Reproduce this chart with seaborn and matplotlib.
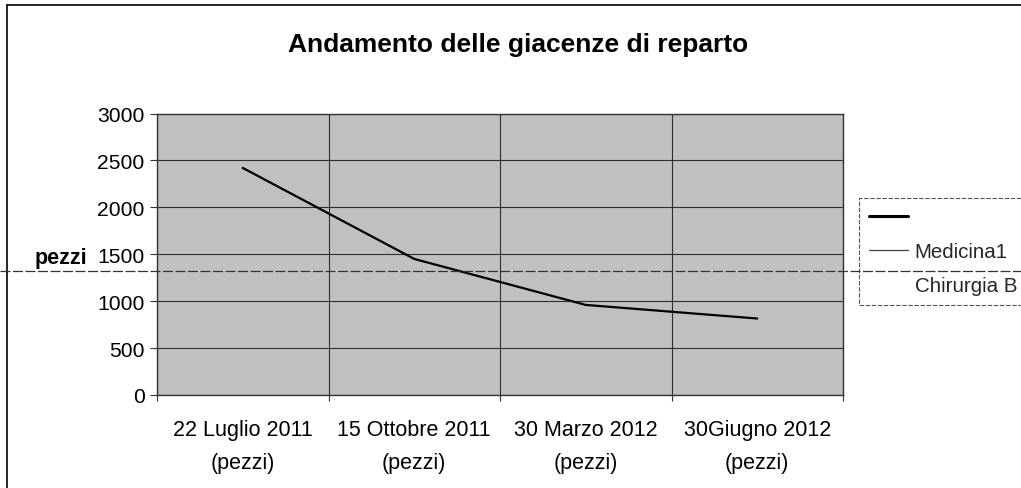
import matplotlib
matplotlib.use("Agg")
import matplotlib.pyplot as plt
from matplotlib.lines import Line2D
from matplotlib.ticker import FixedLocator
import seaborn as sns
import pandas as pd

categories = ["22 Luglio 2011\n(pezzi)", "15 Ottobre 2011\n(pezzi)",
              "30 Marzo 2012\n(pezzi)", "30Giugno 2012\n(pezzi)"]
values = [2420, 1450, 960, 815]
y_ticks = [0, 500, 1000, 1500, 2000, 2500, 3000]
legend_labels = ["", "Medicina1", "Chirurgia B"]
title = "Andamento delle giacenze di reparto"
y_label = "pezzi"

sns.set_theme(style="white")
plt.rcParams["font.family"] = ["Liberation Sans", "DejaVu Sans"]

df = pd.DataFrame({"x": range(len(categories)), "y": values})

fig = plt.figure(figsize=(10.21, 4.89), dpi=100)
fig.patch.set_facecolor("white")
ax = fig.add_axes([157 / 1021, 93 / 489, 686 / 1021, 281.5 / 489])
ax.set_facecolor("#c0c0c0")

sns.lineplot(data=df, x="x", y="y", ax=ax, color="black", linewidth=1.6,
             legend=False)

ax.set_xlim(-0.5, len(categories) - 0.5)
ax.set_ylim(0, 3000)
ax.set_yticks(y_ticks)
ax.set_yticklabels([str(v) for v in y_ticks])
ax.set_xticks(range(len(categories)))
ax.set_xticklabels(categories, linespacing=1.75)
ax.xaxis.set_minor_locator(FixedLocator([i - 0.5 for i in range(len(categories) + 1)]))

ax.grid(True, which="major", axis="y", color="#2e2e2e", linewidth=0.8)
ax.grid(True, which="minor", axis="x", color="#2e2e2e", linewidth=0.8)
ax.grid(False, which="major", axis="x")

ax.tick_params(axis="x", which="major", length=0, pad=17, labelsize=15.5, colors="black")
ax.tick_params(axis="x", which="minor", length=4, width=0.8, color="#333333", bottom=True)
ax.tick_params(axis="y", length=5, width=0.8, color="#333333", left=True,
               labelsize=15.2, labelcolor="black", pad=4)
for s in ax.spines.values():
    s.set_color("#333333")
    s.set_linewidth(1.0)

ax.set_xlabel("")
ax.set_ylabel(y_label, rotation=0, fontsize=15.5, fontweight="bold",
              ha="right", va="center", color="black")
ax.yaxis.set_label_coords(-0.102, 0.49)

fig.text(518 / 1021, 1 - 45 / 489, title, ha="center", va="center",
         fontsize=19, fontweight="bold", color="black")

handles = [Line2D([], [], color="black", linewidth=2.2),
           Line2D([], [], color="#444444", linewidth=0.9),
           Line2D([], [], color="white", linewidth=0.9)]
leg = fig.legend(handles, legend_labels, loc="upper left",
                 bbox_to_anchor=(859 / 1021, 1 - 199 / 489),
                 fontsize=14.8, frameon=True, fancybox=False,
                 handlelength=1.9, handletextpad=0.3, labelspacing=0.72,
                 borderpad=0.5, borderaxespad=0)
frame = leg.get_frame()
frame.set_edgecolor("#555555")
frame.set_linewidth(0.8)
frame.set_linestyle((0, (4, 1.5)))
frame.set_facecolor("white")
frame.set_alpha(1)
leg.set_zorder(5)

# page frame and the scan line across the page
fig.add_artist(Line2D([7 / 1021, 7 / 1021], [0, 1 - 6 / 489], transform=fig.transFigure,
                      color="black", linewidth=1.2))
fig.add_artist(Line2D([7 / 1021, 1], [1 - 6 / 489, 1 - 6 / 489], transform=fig.transFigure,
                      color="black", linewidth=1.2))
fig.add_artist(Line2D([0, 1], [1 - 272 / 489, 1 - 272 / 489], transform=fig.transFigure,
                      color="#333333", linewidth=0.9, linestyle=(0, (8, 2)), zorder=10))

fig.savefig("out.png", dpi=100, facecolor="white")
